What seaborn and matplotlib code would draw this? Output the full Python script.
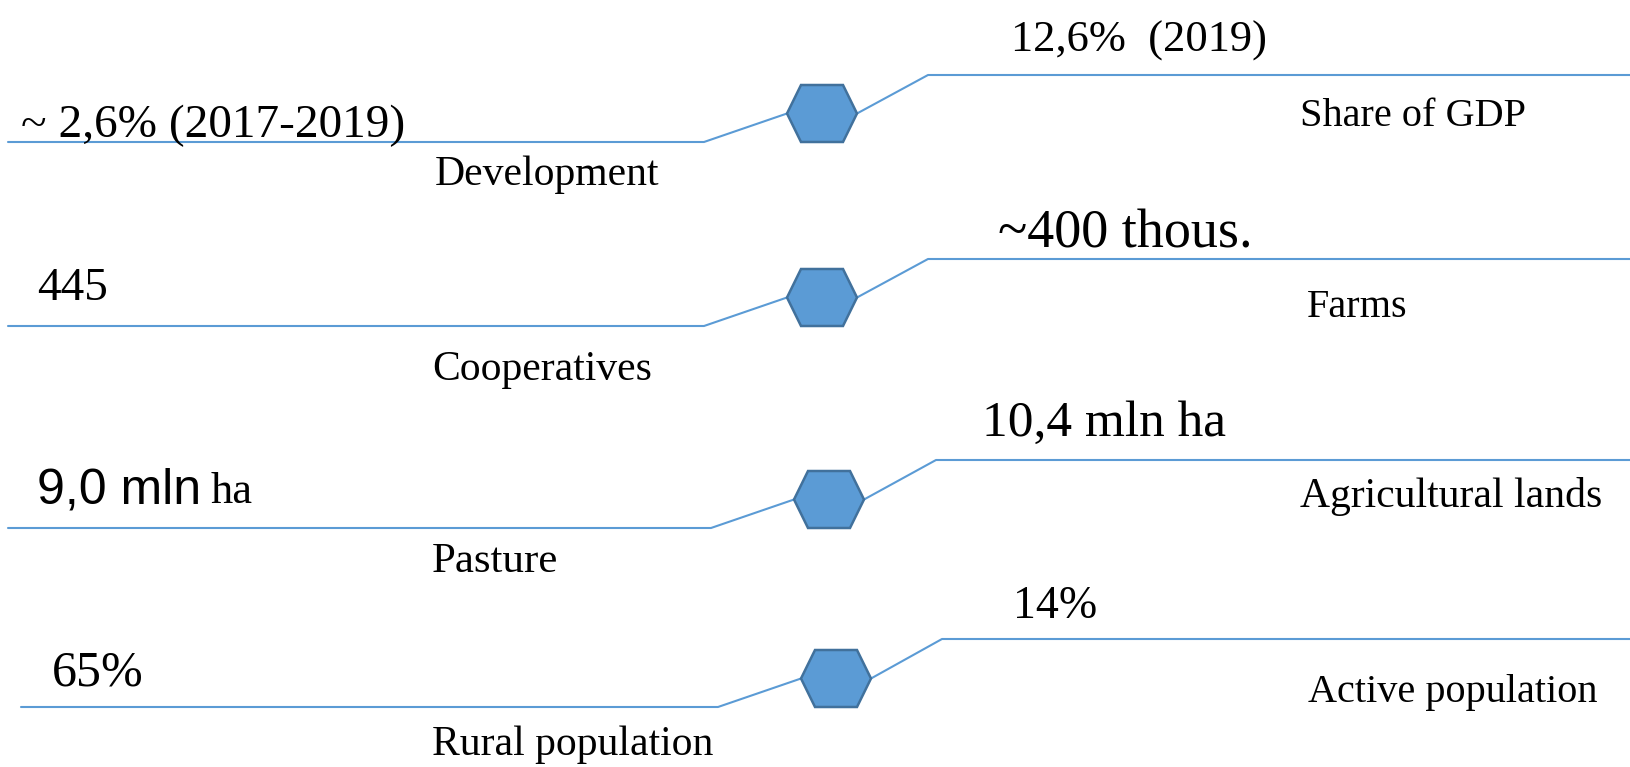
"""
Infographic: agriculture sector indicators, drawn as four connector rows
with a hexagon node, value above each line and caption below it.
Saves out.png
"""
import pandas as pd
import matplotlib
matplotlib.use('Agg')
import matplotlib.pyplot as plt
from matplotlib.patches import Polygon
import seaborn as sns

# chart content
left_values = ['~ 2,6% (2017-2019)', '445', '9,0 mln', '65%']
left_suffix = ['', '', 'ha', '']
left_labels = ['Development', 'Cooperatives', 'Pasture', 'Rural population']
right_values = ['12,6%  (2019)', '~400 thous.', '10,4 mln ha', '14%']
right_labels = ['Share of GDP', 'Farms', 'Agricultural lands', 'Active population']

# layout (pixel space of a 1630x767 canvas)
W, H = 1630, 767
left_start = [8, 8, 8, 21]
left_end = [704, 704, 711, 718]
left_y = [142, 326, 528, 707]
hex_cx = [822, 822, 829, 836]
right_start = [928, 928, 936, 942]
right_y = [75, 259, 460, 639]
hex_w, hex_h, hex_inset = 70, 57, 14

left_val_x = [21, 37, 37, 52]
left_val_y = [137, 300, 503, 686]
left_val_size = [34, 34, 36, 36]
left_val_sans = [False, False, True, False]
suffix_x = [0, 0, 211, 0]
left_lab_x = [435, 432, 432, 432]
left_lab_y = [185, 380, 572, 755]
right_val_x = [1011, 998, 982, 1013]
right_val_y = [52, 247, 436, 618]
right_val_size = [32, 39, 37, 33]
right_lab_x = [1300, 1307, 1300, 1308]
right_lab_y = [126, 317, 507, 702]
label_size = [30, 30, 31, 30]
right_label_size = [29, 29, 30, 29]

LINE_COLOR = '#5B9BD5'
HEX_FILL = '#5B9BD5'
HEX_EDGE = '#41719C'
SERIF = ['Liberation Serif', 'DejaVu Serif']
SANS = ['Liberation Sans', 'DejaVu Sans']


def main():
    sns.set_style('white')
    plt.rcParams['font.family'] = SERIF

    fig = plt.figure(figsize=(W / 100, H / 100), dpi=100)
    ax = fig.add_axes([0, 0, 1, 1])
    ax.set_xlim(0, W)
    ax.set_ylim(H, 0)
    ax.axis('off')

    for i in range(len(left_values)):
        cx, cy = hex_cx[i], left_y[i] - hex_h / 2
        x_l, x_r = cx - hex_w / 2, cx + hex_w / 2
        path = pd.DataFrame({
            'x': [left_start[i], left_end[i], x_l, x_r, right_start[i], W],
            'y': [left_y[i], left_y[i], cy, cy, right_y[i], right_y[i]],
        })
        sns.lineplot(data=path, x='x', y='y', sort=False, estimator=None,
                     color=LINE_COLOR, linewidth=1.5, ax=ax, zorder=1)

        verts = [(x_l, cy), (x_l + hex_inset, cy - hex_h / 2),
                 (x_r - hex_inset, cy - hex_h / 2), (x_r, cy),
                 (x_r - hex_inset, cy + hex_h / 2), (x_l + hex_inset, cy + hex_h / 2)]
        ax.add_patch(Polygon(verts, closed=True, facecolor=HEX_FILL,
                             edgecolor=HEX_EDGE, linewidth=1.8, zorder=3))

        ax.text(left_val_x[i], left_val_y[i], left_values[i], fontsize=left_val_size[i],
                family=SANS if left_val_sans[i] else SERIF,
                ha='left', va='baseline', color='black')
        if left_suffix[i]:
            ax.text(suffix_x[i], left_val_y[i], left_suffix[i], fontsize=32, family=SERIF,
                    ha='left', va='baseline', color='black',
                    bbox=dict(facecolor='white', edgecolor='none', pad=0))
        ax.text(left_lab_x[i], left_lab_y[i], left_labels[i], fontsize=label_size[i],
                family=SERIF, ha='left', va='baseline', color='black')
        ax.text(right_val_x[i], right_val_y[i], right_values[i], fontsize=right_val_size[i],
                family=SERIF, ha='left', va='baseline', color='black')
        ax.text(right_lab_x[i], right_lab_y[i], right_labels[i], fontsize=right_label_size[i],
                family=SERIF, ha='left', va='baseline', color='black')

    fig.savefig('out.png', dpi=100, facecolor='white')
    plt.close(fig)


if __name__ == '__main__':
    main()
